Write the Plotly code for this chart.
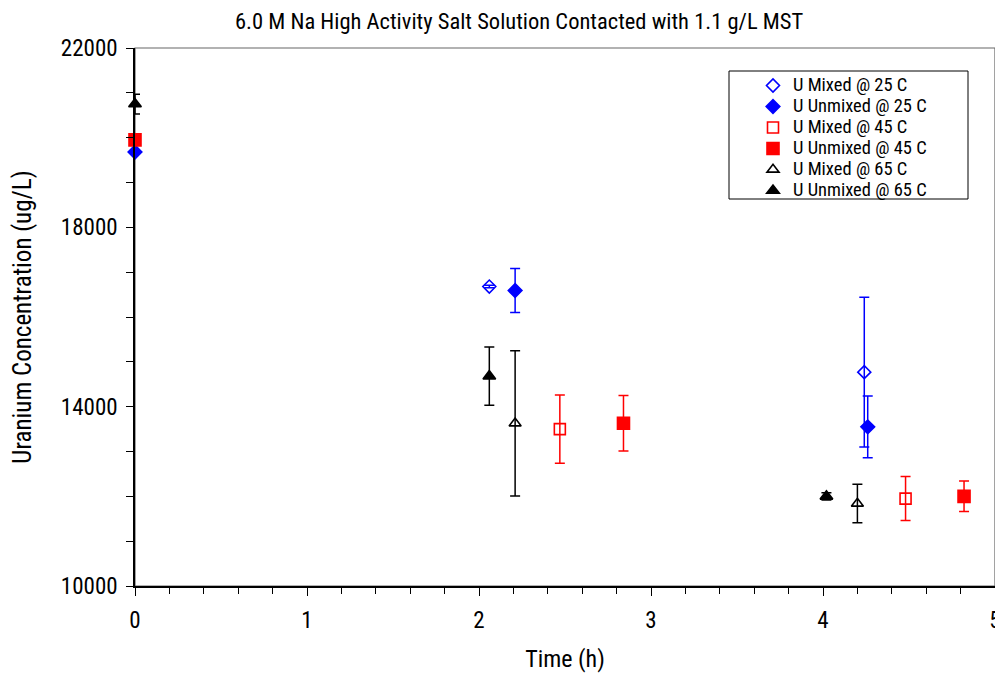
import plotly.graph_objects as go

# Data
series_names = ["U Mixed @ 25 C", "U Unmixed @ 25 C", "U Mixed @ 45 C",
                "U Unmixed @ 45 C", "U Mixed @ 65 C", "U Unmixed @ 65 C"]

mixed25_t = [2.06, 4.24]
mixed25_u = [16680, 14770]
mixed25_err = [30, 1670]

unmixed25_t = [0, 2.21, 4.26]
unmixed25_u = [19680, 16590, 13550]
unmixed25_err = [0, 490, 690]

mixed45_t = [2.47, 4.48]
mixed45_u = [13500, 11950]
mixed45_err = [760, 490]

unmixed45_t = [0, 2.84, 4.82]
unmixed45_u = [19950, 13630, 12000]
unmixed45_err = [0, 620, 340]

mixed65_t = [2.21, 4.20]
mixed65_u = [13630, 11840]
mixed65_err = [1620, 430]

unmixed65_t = [0, 2.06, 4.02]
unmixed65_u = [20750, 14680, 12000]
unmixed65_err = [220, 650, 80]

x_ticks = [0, 1, 2, 3, 4, 5]
y_ticks = [10000, 14000, 18000, 22000]

FONT = "Roboto Condensed, Liberation Sans Narrow, Arial Narrow, sans-serif"

styles = [
    ("diamond-open", "#0000FF", 10),
    ("diamond", "#0000FF", 10.5),
    ("square-open", "#FF0000", 11),
    ("square", "#FF0000", 12),
    ("triangle-up-open", "#000000", 10.5),
    ("triangle-up", "#000000", 11),
]
data = [
    (mixed25_t, mixed25_u, mixed25_err),
    (unmixed25_t, unmixed25_u, unmixed25_err),
    (mixed45_t, mixed45_u, mixed45_err),
    (unmixed45_t, unmixed45_u, unmixed45_err),
    (mixed65_t, mixed65_u, mixed65_err),
    (unmixed65_t, unmixed65_u, unmixed65_err),
]

fig = go.Figure()
for name, (sym, col, sz), (t, u, e) in zip(series_names, styles, data):
    fig.add_trace(go.Scatter(
        x=t, y=u, mode="markers", cliponaxis=False,
        name=f"<span style='font-size:18.5px'>{name}</span>",
        marker=dict(symbol=sym, color=col, size=sz,
                    line=dict(color=col, width=1.6)),
        error_y=dict(type="data", array=e, visible=True, color=col,
                     thickness=1.5, width=5),
    ))

# The page body has an 8px margin, so the figure is sized to fit inside it
PW, PH = 860, 538  # plot area size in px
fig.update_layout(
    width=995, height=665,
    margin=dict(l=127, r=8, t=40, b=87),
    paper_bgcolor="white", plot_bgcolor="white",
    font=dict(family=FONT, color="black"),
    showlegend=True,
    legend=dict(x=(753 - 135) / PW, y=(586 - 70) / PH, xanchor="left", yanchor="top",
                borderwidth=0, bgcolor="rgba(0,0,0,0)",
                font=dict(size=13.85, family=FONT, color="black"), itemsizing="trace",
                tracegroupgap=0, itemwidth=30),
    shapes=[
        dict(type="rect", xref="paper", yref="paper", x0=0, x1=1, y0=0, y1=1,
             line=dict(color="#666666", width=1.2), layer="below"),
        dict(type="rect", xref="paper", yref="paper",
             x0=(729 - 135) / PW, x1=(968 - 135) / PW,
             y0=(586 - 199) / PH, y1=(586 - 71) / PH,
             line=dict(color="black", width=1), fillcolor="white", layer="below"),
    ],
    annotations=[dict(text="6.0 M Na High Activity Salt Solution Contacted with 1.1 g/L MST",
                      x=(519 - 135) / PW, y=(586 - 21) / PH, xref="paper", yref="paper",
                      xanchor="center", yanchor="middle",
                      showarrow=False, font=dict(size=22.5, family=FONT))],
)

fig.update_xaxes(
    range=[0, 5], tickvals=x_ticks, ticktext=[str(v) for v in x_ticks],
    ticks="outside", ticklen=8, tickwidth=1.3, tickcolor="black",
    minor=dict(dtick=0.2, ticks="outside", ticklen=6, tickcolor="black", tickwidth=1),
    showline=True, linecolor="black", linewidth=1.5, mirror=False,
    showgrid=False, zeroline=False, automargin=False,
    tickfont=dict(size=23, family=FONT), ticklabelstandoff=5,
    title=dict(text="Time (h)", font=dict(size=24, family=FONT), standoff=19),
)
fig.update_yaxes(
    range=[10000, 22000], tickvals=y_ticks, ticktext=[str(v) for v in y_ticks],
    ticks="outside", ticklen=7, tickwidth=1.3, tickcolor="black",
    minor=dict(dtick=1000, ticks="outside", ticklen=7, tickcolor="black", tickwidth=1),
    showline=True, linecolor="black", linewidth=1.5, mirror=False,
    showgrid=False, zeroline=False, automargin=False,
    tickfont=dict(size=23, family=FONT), ticklabelstandoff=4,
    title=dict(text="Uranium Concentration (ug/L)", font=dict(size=25, family=FONT), standoff=28),
)

fig.write_html("out.html")
